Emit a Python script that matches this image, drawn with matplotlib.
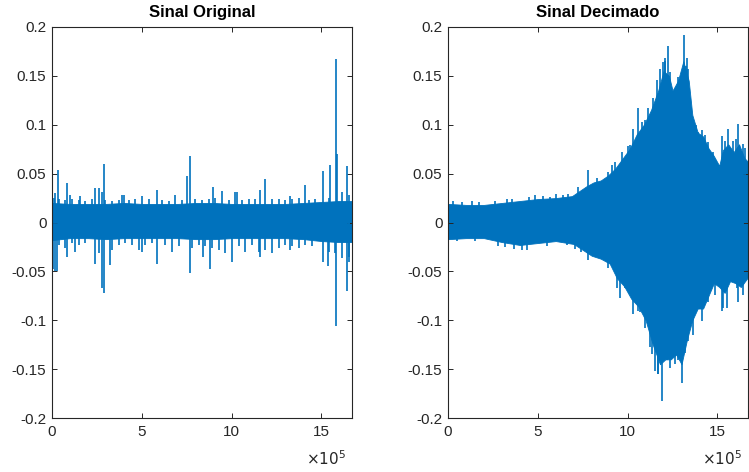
import matplotlib
matplotlib.use("Agg")
import matplotlib.pyplot as plt
import numpy as np
from matplotlib.ticker import FuncFormatter

plt.rcParams['font.family'] = ['Liberation Sans', 'DejaVu Sans']

BLUE = '#0072BD'
INK = '#262626'
SCALE = 1e5  # x positions below are given in units of 10^5 samples

# ---- Sinal Original: dense noise core plus peaks ----
orig_core_x = [0.0, 1.0, 2.0, 3.0, 4.0, 5.0, 6.0, 7.0, 8.0, 9.0, 10.0, 11.0, 12.0, 13.0, 14.0, 15.0, 16.0, 16.7]
orig_core_hi = [0.020, 0.019, 0.019, 0.019, 0.020, 0.019, 0.019, 0.019, 0.020, 0.020, 0.019, 0.019, 0.019, 0.019, 0.020, 0.021, 0.022, 0.022]
orig_core_lo = [-0.018, -0.016, -0.016, -0.017, -0.016, -0.016, -0.016, -0.016, -0.017, -0.017, -0.016, -0.016, -0.016, -0.016, -0.017, -0.019, -0.020, -0.020]

orig_peak_x = [0.09, 0.17, 0.35, 0.37, 0.74, 0.82, 1.00, 1.11, 1.48, 1.56, 1.86, 2.23, 2.39, 2.62, 2.78, 2.91, 2.97,
               3.34, 3.71, 3.90, 3.99, 4.27, 4.64, 5.00, 5.38, 5.83, 6.12, 6.49, 6.85, 7.24, 7.50, 7.68, 7.98,
               8.35, 8.72, 8.95, 9.09, 9.45, 9.83, 10.20, 10.28, 10.58, 10.95, 11.32, 11.58, 11.86, 12.24,
               12.62, 12.99, 13.25, 13.36, 13.73, 14.09, 14.29, 14.66, 15.11, 15.40, 15.48, 15.80, 15.87,
               16.14, 16.41, 16.51]
orig_peak_v = [0.025, 0.030, 0.054, 0.024, 0.023, 0.040, 0.028, 0.024, 0.023, 0.027, 0.022, 0.024, 0.035, 0.035, 0.031, 0.060, 0.023,
               0.022, 0.023, 0.028, 0.028, 0.023, 0.024, 0.027, 0.024, 0.033, 0.023, 0.022, 0.028, 0.023, 0.048, 0.068, 0.024,
               0.023, 0.024, 0.036, 0.025, 0.032, 0.023, 0.031, 0.031, 0.023, 0.024, 0.024, 0.033, 0.044, 0.024,
               0.024, 0.023, 0.027, 0.024, 0.025, 0.038, 0.023, 0.024, 0.053, 0.025, 0.059, 0.167, 0.070,
               0.031, 0.058, 0.028]

orig_dip_x = [0.05, 0.17, 0.30, 0.37, 0.74, 0.82, 1.11, 1.28, 1.48, 1.86, 2.39, 2.60, 2.80, 2.91, 3.23, 3.34,
              3.71, 4.08, 4.45, 4.82, 5.00, 5.19, 5.57, 5.83, 6.31, 6.68, 7.05, 7.68, 7.79, 8.16, 8.41, 8.53,
              8.80, 8.91, 9.28, 9.65, 10.00, 10.39, 10.75, 11.13, 11.50, 11.58, 11.87, 12.24, 12.62, 12.99,
              13.25, 13.36, 13.73, 14.10, 14.47, 15.11, 15.38, 15.40, 15.77, 15.80, 16.14, 16.41, 16.51, 16.55]
orig_dip_v = [-0.048, -0.050, -0.050, -0.023, -0.026, -0.035, -0.021, -0.030, -0.023, -0.021, -0.042, -0.031, -0.067, -0.072, -0.043, -0.028,
              -0.023, -0.021, -0.023, -0.028, -0.030, -0.023, -0.021, -0.042, -0.023, -0.030, -0.024, -0.052, -0.026, -0.023, -0.035, -0.024,
              -0.048, -0.026, -0.028, -0.031, -0.040, -0.024, -0.030, -0.023, -0.030, -0.035, -0.028, -0.031, -0.026, -0.023,
              -0.028, -0.024, -0.026, -0.023, -0.024, -0.040, -0.045, -0.030, -0.031, -0.106, -0.036, -0.070, -0.035, -0.040]

# ---- Sinal Decimado: envelope body plus peaks ----
dec_body_hi_x = [0.02, 1.0, 2.0, 3.0, 4.0, 5.0, 6.0, 6.9, 7.3, 7.7, 8.1, 8.5, 8.9, 9.3, 9.7, 10.1, 10.5, 10.9,
                 11.3, 11.7, 12.0, 12.3, 12.5, 12.8, 13.1, 13.4, 13.6, 13.9, 14.2, 14.5, 14.8, 15.1, 15.3, 15.6,
                 15.9, 16.2, 16.5, 16.7]
dec_body_hi_v = [0.019, 0.018, 0.018, 0.020, 0.022, 0.024, 0.025, 0.027, 0.032, 0.037, 0.041, 0.043, 0.048, 0.055, 0.065, 0.075, 0.090, 0.100,
                 0.115, 0.135, 0.155, 0.150, 0.135, 0.145, 0.165, 0.145, 0.110, 0.092, 0.088, 0.076, 0.068, 0.058, 0.074, 0.080,
                 0.072, 0.080, 0.066, 0.062]
dec_body_lo_x = [0.02, 1.0, 2.0, 3.0, 4.0, 5.0, 6.0, 7.0, 7.5, 8.0, 8.5, 9.0, 9.4, 9.8, 10.2, 10.6, 11.0, 11.4,
                 11.8, 12.1, 12.4, 12.7, 13.0, 13.3, 13.6, 13.9, 14.2, 14.5, 14.8, 15.1, 15.4, 15.7, 16.0, 16.3, 16.7]
dec_body_lo_v = [-0.017, -0.016, -0.016, -0.020, -0.023, -0.021, -0.019, -0.022, -0.028, -0.034, -0.037, -0.042, -0.057, -0.065, -0.078, -0.086, -0.100, -0.125,
                 -0.145, -0.140, -0.140, -0.135, -0.145, -0.120, -0.100, -0.088, -0.088, -0.075, -0.062, -0.066, -0.072, -0.060, -0.062, -0.066, -0.056]

dec_peak_x = [0.3, 0.8, 1.32, 1.7, 2.6, 3.3, 3.55, 4.5, 4.84, 5.3, 5.7, 6.0, 6.4, 6.7, 7.26, 7.81, 8.3, 8.91, 9.11,
              9.30, 9.67, 10.0, 10.13, 10.32, 10.60, 10.78, 10.97, 11.15, 11.43, 11.62, 11.80, 11.99, 12.08, 12.10,
              12.23, 12.36, 12.73, 12.82, 12.92, 12.97, 13.12, 13.25, 13.29, 13.38, 13.66, 13.81, 13.94, 14.13,
              14.31, 14.49, 14.76, 14.77, 15.24, 15.42, 15.61, 15.89, 16.05, 16.16, 16.40, 16.54]
dec_peak_v = [0.022, 0.021, 0.022, 0.021, 0.022, 0.024, 0.024, 0.026, 0.028, 0.027, 0.026, 0.029, 0.028, 0.029, 0.036, 0.054, 0.046, 0.052, 0.059,
              0.062, 0.072, 0.078, 0.079, 0.096, 0.117, 0.103, 0.105, 0.117, 0.127, 0.146, 0.157, 0.164, 0.168, 0.165,
              0.181, 0.154, 0.137, 0.149, 0.147, 0.147, 0.192, 0.160, 0.168, 0.157, 0.103, 0.100, 0.093, 0.095,
              0.090, 0.082, 0.072, 0.069, 0.088, 0.083, 0.096, 0.083, 0.085, 0.101, 0.080, 0.076]
dec_dip_x = [0.5, 1.5, 2.8, 3.17, 3.7, 4.10, 4.4, 5.5, 6.6, 7.07, 7.4, 7.82, 8.93, 9.39, 9.58, 9.86, 10.32, 10.60, 10.69,
             10.97, 11.25, 11.34, 11.53, 11.69, 11.71, 11.90, 12.18, 12.36, 12.65, 12.82, 13.05, 13.20, 13.38, 13.66,
             14.13, 14.49, 14.87, 15.24, 15.33, 15.52, 16.07, 16.16, 16.44]
dec_dip_v = [-0.019, -0.019, -0.024, -0.025, -0.027, -0.028, -0.028, -0.024, -0.023, -0.027, -0.030, -0.038, -0.047, -0.067, -0.077, -0.067, -0.094, -0.091, -0.092,
             -0.108, -0.127, -0.135, -0.152, -0.155, -0.155, -0.183, -0.141, -0.149, -0.145, -0.141, -0.164, -0.134, -0.121, -0.115,
             -0.101, -0.081, -0.074, -0.091, -0.087, -0.087, -0.067, -0.081, -0.074]

y_ticks = [-0.2, -0.15, -0.1, -0.05, 0, 0.05, 0.1, 0.15, 0.2]
x_ticks = [0, 5, 10, 15]
x_max = 16.70

W, H = 749, 472
fig = plt.figure(figsize=(W / 100, H / 100), dpi=100)
ax1 = fig.add_axes([52 / W, 54 / H, 300 / W, 391 / H])
ax2 = fig.add_axes([448 / W, 54 / H, 300 / W, 391 / H])


def style(ax, title):
    ax.set_xlim(0, x_max * SCALE)
    ax.set_ylim(-0.2, 0.2)
    ax.set_yticks(y_ticks)
    ax.set_xticks([t * SCALE for t in x_ticks])
    ax.xaxis.set_major_formatter(FuncFormatter(lambda v, p: '%g' % round(v / SCALE, 6)))
    ax.yaxis.set_major_formatter(FuncFormatter(lambda v, p: '%g' % round(v, 6)))
    ax.tick_params(direction='in', length=3.6, width=0.7, colors=INK,
                   labelsize=11, top=True, right=True)
    ax.tick_params(axis='x', pad=5)
    ax.tick_params(axis='y', pad=4)
    for s in ax.spines.values():
        s.set_color(INK)
        s.set_linewidth(0.8)
    ax.set_title(title, fontsize=12, fontweight='bold', color='black', pad=7)
    ax.annotate(r'$\times10^{5}$', xy=(1, 0), xycoords='axes fraction',
                xytext=(-4, -34), textcoords='offset points',
                ha='right', va='baseline', fontsize=11, color=INK)


def draw_signal(ax, hx, hv, lx, lv, px, pv, dx, dv):
    ax.fill_between(np.array(hx) * SCALE, 0, hv, color=BLUE, lw=0.6, edgecolor=BLUE)
    ax.fill_between(np.array(lx) * SCALE, lv, 0, color=BLUE, lw=0.6, edgecolor=BLUE)
    ax.vlines(np.array(px) * SCALE, 0, pv, color=BLUE, lw=1.2)
    ax.vlines(np.array(dx) * SCALE, 0, dv, color=BLUE, lw=1.2)


draw_signal(ax1, orig_core_x, orig_core_hi, orig_core_x, orig_core_lo,
            orig_peak_x, orig_peak_v, orig_dip_x, orig_dip_v)
style(ax1, 'Sinal Original')

draw_signal(ax2, dec_body_hi_x, dec_body_hi_v, dec_body_lo_x, dec_body_lo_v,
            dec_peak_x, dec_peak_v, dec_dip_x, dec_dip_v)
style(ax2, 'Sinal Decimado')

fig.savefig('out.png', dpi=100)
